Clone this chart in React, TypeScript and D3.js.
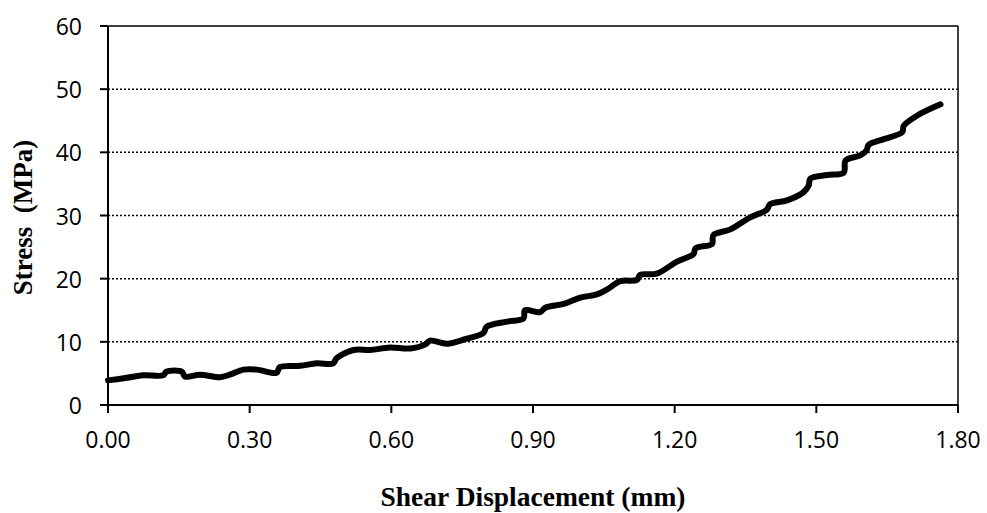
import React from "react";
import * as d3 from "d3";

// Shear displacement (mm) and stress (MPa) readings
const displacement = [
  0.0, 0.04, 0.075, 0.117, 0.124, 0.156, 0.163, 0.195, 0.237, 0.258, 0.287, 0.315,
  0.357, 0.364, 0.407, 0.442, 0.477, 0.484, 0.52, 0.555, 0.597, 0.64, 0.672, 0.682,
  0.718, 0.76, 0.795, 0.802, 0.845, 0.88, 0.883, 0.915, 0.926, 0.965, 1.0, 1.035,
  1.057, 1.085, 1.12, 1.127, 1.162, 1.205, 1.24, 1.244, 1.279, 1.282, 1.318, 1.36,
  1.395, 1.402, 1.438, 1.473, 1.484, 1.487, 1.523, 1.558, 1.562, 1.593, 1.606, 1.611,
  1.643, 1.682, 1.685, 1.713, 1.763,
];
const stress = [
  3.9, 4.3, 4.7, 4.7, 5.3, 5.3, 4.5, 4.8, 4.4, 4.8, 5.6, 5.6,
  5.1, 6.0, 6.2, 6.6, 6.6, 7.4, 8.7, 8.7, 9.1, 8.95, 9.6, 10.2,
  9.7, 10.5, 11.4, 12.4, 13.2, 13.7, 15.0, 14.7, 15.4, 16.0, 17.0, 17.5,
  18.3, 19.6, 19.8, 20.6, 20.8, 22.7, 23.9, 24.8, 25.5, 26.9, 27.8, 29.7,
  30.9, 31.8, 32.4, 33.7, 34.8, 35.8, 36.4, 36.8, 38.7, 39.5, 40.3, 41.2,
  42.1, 43.2, 44.2, 45.8, 47.6,
];

const xTicks = [0, 0.3, 0.6, 0.9, 1.2, 1.5, 1.8];
const yTicks = [0, 10, 20, 30, 40, 50, 60];

const W = 987;
const H = 513;
const left = 108;
const right = 958;
const top = 26;
const bottom = 405;

export default function App() {
  const x = d3.scaleLinear().domain([0, 1.8]).range([left, right]);
  const y = d3.scaleLinear().domain([0, 60]).range([bottom, top]);

  const points: [number, number][] = displacement.map((d, i) => [d, stress[i]]);
  const line = d3
    .line<[number, number]>()
    .x((d) => x(d[0]))
    .y((d) => y(d[1]))
    .curve(d3.curveCatmullRom.alpha(0.5));

  const tickFont = "'Open Sans', 'Liberation Sans', sans-serif";
  const titleFont = "'Liberation Serif', 'DejaVu Serif', serif";

  return (
    <svg
      width={W}
      height={H}
      style={{ position: "absolute", left: 0, top: 0, background: "#fff" }}
    >
      {/* dotted horizontal gridlines */}
      {yTicks
        .filter((t) => t > 0 && t < 60)
        .map((t) => (
          <line
            key={"g" + t}
            x1={left}
            x2={right}
            y1={y(t)}
            y2={y(t)}
            stroke="#000"
            strokeWidth={1.5}
            strokeDasharray="2 2"
          />
        ))}
      {/* frame: top and right edges */}
      <line x1={left} x2={right} y1={top} y2={top} stroke="#000" strokeWidth={1.5} />
      <line x1={right} x2={right} y1={top} y2={bottom} stroke="#000" strokeWidth={1.5} />

      {/* axes */}
      <line x1={left} x2={left} y1={top} y2={bottom} stroke="#000" strokeWidth={2} />
      <line x1={left} x2={right} y1={bottom} y2={bottom} stroke="#000" strokeWidth={2} />

      {yTicks.map((t) => (
        <g key={"y" + t}>
          <line x1={left - 8} x2={left} y1={y(t)} y2={y(t)} stroke="#000" strokeWidth={2} />
          <text
            x={82}
            y={y(t)}
            textAnchor="end"
            dominantBaseline="central"
            fontFamily={tickFont}
            fontSize={23}
            fill="#000"
          >
            {t}
          </text>
        </g>
      ))}

      {xTicks.map((t) => (
        <g key={"x" + t}>
          <line x1={x(t)} x2={x(t)} y1={bottom} y2={bottom + 8} stroke="#000" strokeWidth={2} />
          <text
            x={x(t)}
            y={448}
            textAnchor="middle"
            fontFamily={tickFont}
            fontSize={23}
            fill="#000"
          >
            {t.toFixed(2)}
          </text>
        </g>
      ))}

      {/* stress curve */}
      <path
        d={line(points) ?? ""}
        fill="none"
        stroke="#000"
        strokeWidth={6}
        strokeLinecap="round"
        strokeLinejoin="round"
      />

      {/* axis titles */}
      <text
        x={(left + right) / 2}
        y={506}
        textAnchor="middle"
        fontFamily={titleFont}
        fontWeight="bold"
        fontSize={27.5}
        fill="#000"
      >
        Shear Displacement (mm)
      </text>
      <text
        transform={`translate(32, ${(top + bottom) / 2 + 2}) rotate(-90)`}
        textAnchor="middle"
        fontFamily={titleFont}
        fontWeight="bold"
        fontSize={27}
        fill="#000"
        style={{ whiteSpace: "pre" }}
      >
        {"Stress  (MPa)"}
      </text>
    </svg>
  );
}
